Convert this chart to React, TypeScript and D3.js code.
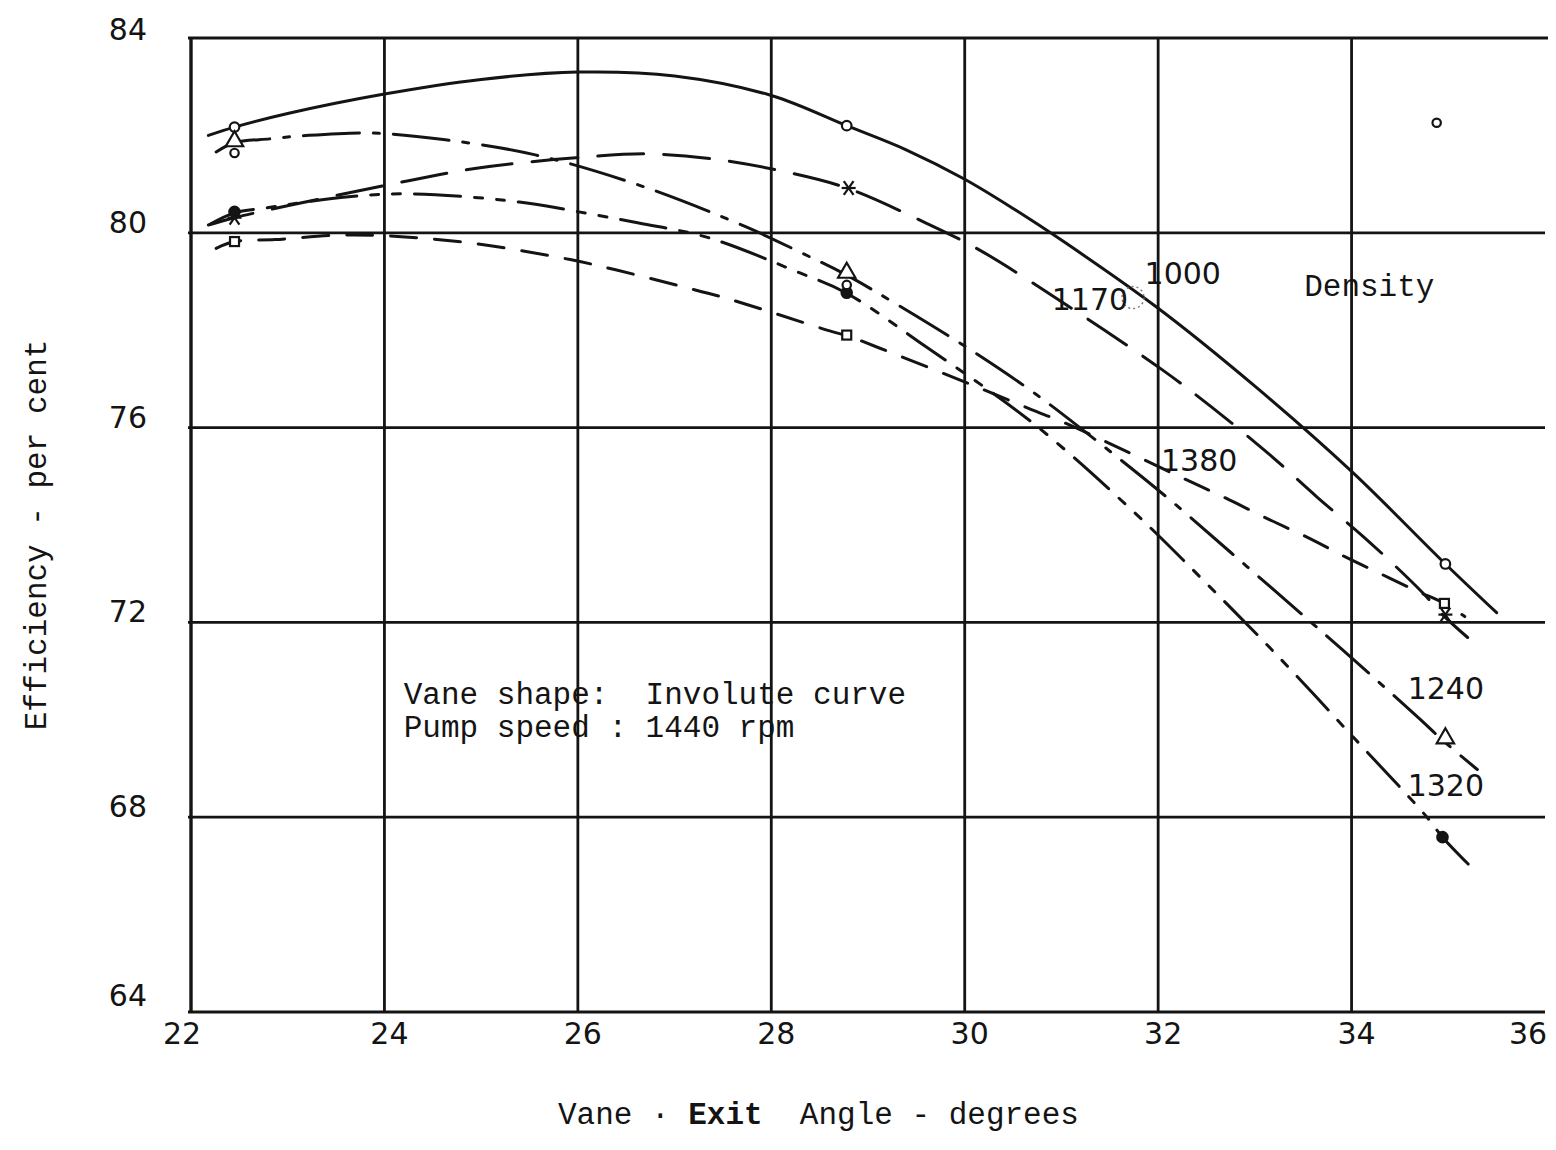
import { useEffect, useRef } from "react";
import * as d3 from "d3";

type Pt = [number, number];

const xTicks = [22, 24, 26, 28, 30, 32, 34, 36];
const yTicks = [64, 68, 72, 76, 80, 84];

// traced curves, [vane exit angle, efficiency]
const curve1000: Pt[] = [
  [22.18, 82.0], [22.45, 82.17], [23, 82.45], [24, 82.85], [25, 83.15], [26, 83.3],
  [27, 83.22], [28, 82.82], [28.78, 82.2], [29.4, 81.7], [30, 81.1], [30.5, 80.5],
  [31, 79.85], [32, 78.45], [33, 76.85], [34, 75.1], [34.97, 73.2], [35.5, 72.2],
];
const curve1170: Pt[] = [
  [22.18, 80.16], [22.45, 80.31], [23.39, 80.72], [24.25, 81.07], [24.97, 81.33],
  [25.98, 81.54], [26.73, 81.62], [27.46, 81.5], [28.15, 81.25], [28.78, 80.92],
  [29.6, 80.2], [30.15, 79.65], [31.08, 78.48], [32.04, 77.19], [32.56, 76.41],
  [33.15, 75.45], [33.64, 74.58], [34.19, 73.64], [34.73, 72.62], [34.94, 72.16], [35.2, 71.69],
];
const curve1240: Pt[] = [
  [22.26, 81.66], [22.45, 81.85], [22.82, 81.93], [23.14, 81.99], [23.83, 82.05],
  [24.63, 81.91], [25.56, 81.6], [26.66, 80.96], [27.74, 80.12], [28.3, 79.6],
  [28.77, 79.14], [29.34, 78.48], [30.12, 77.52], [30.74, 76.68], [31.44, 75.61],
  [32.12, 74.52], [32.76, 73.42], [33.38, 72.35], [33.91, 71.43], [34.71, 70.01],
  [34.93, 69.6], [35.3, 68.98],
];
const curve1320: Pt[] = [
  [22.2, 80.18], [22.45, 80.41], [22.77, 80.51], [23.63, 80.74], [24.25, 80.8],
  [24.97, 80.72], [25.51, 80.6], [26.01, 80.43], [26.63, 80.2], [27.35, 79.9],
  [28.29, 79.18], [28.77, 78.77], [29.6, 77.66], [30.7, 76.1], [31.72, 74.32],
  [32.51, 72.78], [33.29, 71.2], [34.01, 69.66], [34.78, 68.0], [34.94, 67.59], [35.28, 66.89],
];
const curve1380: Pt[] = [
  [22.26, 79.68], [22.45, 79.82], [22.87, 79.86], [23.5, 79.95], [24.1, 79.93],
  [24.97, 79.77], [25.92, 79.45], [26.39, 79.24], [27.09, 78.89], [27.58, 78.63],
  [28.63, 77.97], [28.78, 77.89], [29.11, 77.64], [30.07, 76.88], [30.69, 76.37],
  [31.03, 76.1], [31.79, 75.4], [32.29, 74.93], [32.67, 74.58], [33.15, 74.11],
  [33.57, 73.72], [33.93, 73.35], [34.32, 72.98], [34.68, 72.64], [34.96, 72.39], [35.17, 72.12],
];

// measured points
const points1000: Pt[] = [[22.45, 82.17], [28.78, 82.2], [34.97, 73.2]];
const points1170: Pt[] = [[22.45, 80.31], [28.8, 80.92], [34.97, 72.16]];
const points1240: Pt[] = [[22.45, 81.88], [28.78, 79.18], [34.97, 69.62]];
const points1320: Pt[] = [[22.45, 80.43], [28.78, 78.77], [34.94, 67.59]];
const points1380: Pt[] = [[22.45, 79.82], [28.78, 77.9], [34.96, 72.39]];
const pointsExtra: Pt[] = [[22.45, 81.64], [28.78, 78.93], [34.88, 82.26]];

const series = [
  { name: "1000", curve: curve1000, points: points1000, marker: "circle", dash: null },
  { name: "1170", curve: curve1170, points: points1170, marker: "star", dash: "46 20" },
  { name: "1240", curve: curve1240, points: points1240, marker: "triangle", dash: "56 14 6 14" },
  { name: "1320", curve: curve1320, points: points1320, marker: "dot", dash: "46 14 8 14 8 14" },
  { name: "1380", curve: curve1380, points: points1380, marker: "square", dash: "26 18" },
];

// text placed in data coordinates (left edge, baseline)
const curveLabels = [
  { text: "1000", x: 31.86, y: 78.95 },
  { text: "1170", x: 30.9, y: 78.42 },
  { text: "1380", x: 32.03, y: 75.1 },
  { text: "1240", x: 34.58, y: 70.42 },
  { text: "1320", x: 34.58, y: 68.43 },
];
const noteLines = [
  { text: "Vane shape:  Involute curve", x: 24.2, y: 70.32 },
  { text: "Pump speed : 1440 rpm", x: 24.2, y: 69.64 },
  { text: "Density", x: 33.51, y: 78.71 },
];

export default function App() {
  const svgRef = useRef<SVGSVGElement>(null);

  useEffect(() => {
    if (!svgRef.current) return;
    const svg = d3.select(svgRef.current);
    svg.selectAll("*").remove();

    const width = 1556;
    const height = 1150;
    svg.attr("viewBox", `0 0 ${width} ${height}`);

    const x = d3.scaleLinear().domain([22, 36]).range([191, 1545]);
    const y = d3.scaleLinear().domain([64, 84]).range([1012, 38]);

    const ink = "#141414";
    const numFont = "DejaVu Sans, sans-serif";
    const monoFont = "Liberation Mono, DejaVu Sans Mono, monospace";

    // Grid
    const grid = svg.append("g").attr("stroke", ink).attr("stroke-width", 2.8);
    grid
      .selectAll("line.h")
      .data(yTicks)
      .join("line")
      .attr("x1", x(22) - 3)
      .attr("x2", (d) => (d === 84 ? x(36) + 3 : x(36)))
      .attr("y1", (d) => y(d))
      .attr("y2", (d) => y(d));
    grid
      .selectAll("line.v")
      .data(xTicks.filter((t) => t < 36))
      .join("line")
      .attr("x1", (d) => x(d))
      .attr("x2", (d) => x(d))
      .attr("y1", y(84))
      .attr("y2", y(64))
      .attr("stroke-width", (d) => (d === 22 ? 3.4 : 2.8));

    // Tick labels
    svg
      .append("g")
      .selectAll("text")
      .data(yTicks)
      .join("text")
      .attr("x", 147)
      .attr("y", (d) => y(d) + (d === 84 ? 2 : d === 64 ? -6 : 0))
      .attr("text-anchor", "end")
      .attr("font-family", numFont)
      .attr("font-size", 30)
      .attr("fill", ink)
      .text((d) => d);

    svg
      .append("g")
      .selectAll("text")
      .data(xTicks)
      .join("text")
      .attr("x", (d) => x(d) + (d === 22 ? -9 : d === 36 ? -17 : 5))
      .attr("y", 1044)
      .attr("text-anchor", "middle")
      .attr("font-family", numFont)
      .attr("font-size", 30)
      .attr("fill", ink)
      .text((d) => d);

    // Curves
    const line = d3
      .line<Pt>()
      .x((d) => x(d[0]))
      .y((d) => y(d[1]))
      .curve(d3.curveCatmullRom.alpha(0.5));

    const curves = svg.append("g").attr("fill", "none").attr("stroke", ink);
    series.forEach((s) => {
      curves
        .append("path")
        .attr("d", line(s.curve))
        .attr("stroke-width", 3)
        .attr("stroke-dasharray", s.dash)
        .attr("stroke-linecap", "round");
    });

    // Markers
    const markers = svg.append("g").attr("stroke", ink).attr("stroke-width", 2.2);
    const drawMarker = (type: string, p: Pt) => {
      const cx = x(p[0]);
      const cy = y(p[1]);
      if (type === "circle") {
        markers.append("circle").attr("cx", cx).attr("cy", cy).attr("r", 4.8).attr("fill", "#fff");
      } else if (type === "extra") {
        markers.append("circle").attr("cx", cx).attr("cy", cy).attr("r", 4.2).attr("fill", "#fff");
      } else if (type === "dot") {
        markers.append("circle").attr("cx", cx).attr("cy", cy).attr("r", 5.2).attr("fill", ink);
      } else if (type === "triangle") {
        markers
          .append("path")
          .attr("d", d3.symbol(d3.symbolTriangle, 130)())
          .attr("transform", `translate(${cx},${cy})`)
          .attr("fill", "#fff");
      } else if (type === "square") {
        markers
          .append("rect")
          .attr("x", cx - 4.5)
          .attr("y", cy - 4.5)
          .attr("width", 9)
          .attr("height", 9)
          .attr("fill", "#fff");
      } else if (type === "star") {
        [55, 125].forEach((a) => {
          const r = (a * Math.PI) / 180;
          markers
            .append("line")
            .attr("x1", cx - 8.5 * Math.cos(r))
            .attr("x2", cx + 8.5 * Math.cos(r))
            .attr("y1", cy - 8.5 * Math.sin(r))
            .attr("y2", cy + 8.5 * Math.sin(r));
        });
        markers
          .append("line")
          .attr("x1", cx - 7)
          .attr("x2", cx + 7)
          .attr("y1", cy)
          .attr("y2", cy);
      }
    };
    series.forEach((s) => s.points.forEach((p) => drawMarker(s.marker, p)));
    pointsExtra.forEach((p) => drawMarker("extra", p));

    // faint ghost circle after the 1170 label
    svg
      .append("circle")
      .attr("cx", x(31.74))
      .attr("cy", y(78.67))
      .attr("r", 11)
      .attr("fill", "none")
      .attr("stroke", "#777")
      .attr("stroke-width", 1.4)
      .attr("stroke-dasharray", "2 3");

    // Curve labels
    svg
      .append("g")
      .selectAll("text")
      .data(curveLabels)
      .join("text")
      .attr("x", (d) => x(d.x))
      .attr("y", (d) => y(d.y))
      .attr("font-family", numFont)
      .attr("font-size", 30)
      .attr("fill", ink)
      .text((d) => d.text);

    // Notes
    svg
      .append("g")
      .selectAll("text")
      .data(noteLines)
      .join("text")
      .attr("x", (d) => x(d.x))
      .attr("y", (d) => y(d.y))
      .attr("font-family", monoFont)
      .attr("font-size", 31)
      .attr("fill", ink)
      .style("white-space", "pre")
      .text((d) => d.text);

    // Axis titles
    const xt = svg
      .append("text")
      .attr("x", 558)
      .attr("y", 1124)
      .attr("font-family", monoFont)
      .attr("font-size", 31)
      .attr("fill", ink)
      .style("white-space", "pre");
    xt.append("tspan").text("Vane \u00b7 ");
    xt.append("tspan").attr("font-weight", "bold").text("Exit");
    xt.append("tspan").text("  Angle - degrees");

    svg
      .append("text")
      .attr("transform", `translate(46,${535}) rotate(-90)`)
      .attr("text-anchor", "middle")
      .attr("font-family", monoFont)
      .attr("font-size", 31)
      .attr("fill", ink)
      .style("white-space", "pre")
      .text("Efficiency - per cent");
  }, []);

  return (
    <>
      <style>{"body{margin:0;background:#fff}"}</style>
      <svg ref={svgRef} width={1556} height={1150} style={{ display: "block" }} />
    </>
  );
}
